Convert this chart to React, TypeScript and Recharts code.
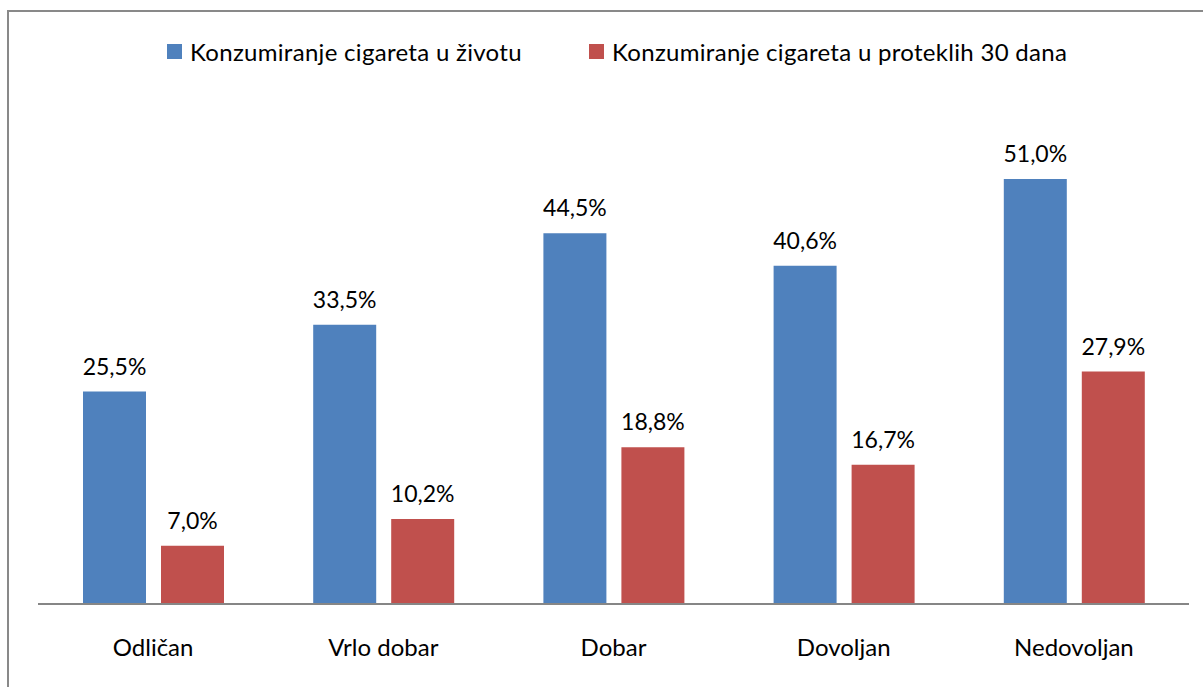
import { BarChart, Bar, XAxis, YAxis, LabelList } from 'recharts';

const categories = ['Odličan', 'Vrlo dobar', 'Dobar', 'Dovoljan', 'Nedovoljan'];
const lifetime = [25.5, 33.5, 44.5, 40.6, 51.0];
const last30 = [7.0, 10.2, 18.8, 16.7, 27.9];
const seriesNames = ['Konzumiranje cigareta u životu', 'Konzumiranje cigareta u proteklih 30 dana'];

const BLUE = '#4F81BD';
const RED = '#C0504D';
const FONT = 'Lato, "Open Sans", sans-serif';

const data = categories.map((name, i) => ({ name, lifetime: lifetime[i], last30: last30[i] }));

const fmt = (v: any) => `${Number(v).toFixed(1).replace('.', ',')}%`;

// legend item left edges
const legendLeft = [167, 589];

export default function App() {
    return (
        <div style={{ position: 'fixed', left: 0, top: 0, width: 1203, height: 687, background: '#fff', fontFamily: FONT, overflow: 'hidden' }}>
            <div style={{ position: 'absolute', left: 7, top: 10, width: 1210, height: 700, border: '2px solid #898989', boxSizing: 'border-box' }} />
            {[BLUE, RED].map((c, i) => (
                <div key={i} style={{ position: 'absolute', left: legendLeft[i], top: 36, height: 30, display: 'flex', alignItems: 'center', fontSize: 24, color: '#000', whiteSpace: 'nowrap', letterSpacing: 0.3 }}>
                    <span style={{ display: 'inline-block', width: 15, height: 15, background: c, marginRight: 8 }} />
                    <span>{seriesNames[i]}</span>
                </div>
            ))}
            <div style={{ position: 'absolute', left: 0, top: 0 }}>
                <BarChart
                    width={1203}
                    height={687}
                    data={data}
                    margin={{ top: 104, right: 14, bottom: 33, left: 38 }}
                    barCategoryGap={45}
                    barGap={15}
                >
                    <XAxis
                        dataKey="name"
                        height={50}
                        axisLine={{ stroke: '#868686', strokeWidth: 2 }}
                        tickLine={false}
                        tick={{ fill: '#000', fontSize: 24, fontFamily: FONT, dy: 27 }}
                        interval={0}
                    />
                    <YAxis hide domain={[0, 60]} />
                    <Bar dataKey="lifetime" fill={BLUE} isAnimationActive={false}>
                        <LabelList dataKey="lifetime" position="top" offset={17} formatter={fmt} style={{ fill: '#000', fontSize: 23, fontFamily: FONT }} />
                    </Bar>
                    <Bar dataKey="last30" fill={RED} isAnimationActive={false}>
                        <LabelList dataKey="last30" position="top" offset={17} formatter={fmt} style={{ fill: '#000', fontSize: 23, fontFamily: FONT }} />
                    </Bar>
                </BarChart>
            </div>
        </div>
    );
}
